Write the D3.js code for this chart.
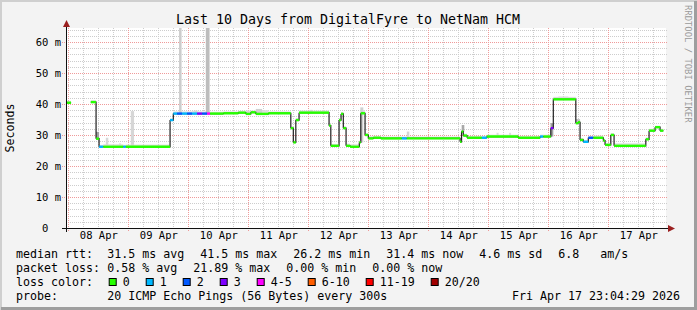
<!DOCTYPE html>
<html>
<head>
<meta charset="utf-8">
<script src="https://cdn.jsdelivr.net/npm/d3@7"></script>
<style>
  html, body { margin: 0; padding: 0; background: #f3f3f3; }
  svg text { font-family: "DejaVu Sans Mono", monospace; white-space: pre; }
</style>
</head>
<body>
<div id="chart"></div>
<script>
// Size of the picture
const width = 697;
const height = 310;

// Median steps: [hours since 08 Apr 00:00, median ms, lost pings, top of smoke ms]
const medianSteps = [
  [-0.9, 40.4, 0, 41.0], [1.1, null, 0, null],
  [9.0, 40.6, 0, 41.2], [11.1, 28.8, 0, 29.5], [12.3, 26.2, 1, 26.8], [14.0, 26.2, 0, 27.0],
  [22.0, 26.2, 1, 26.8], [23.0, 26.2, 0, 26.9], [40.7, 34.8, 1, 35.3], [42.0, 36.9, 1, 37.6],
  [43.5, 36.9, 2, 37.6], [45.5, 36.9, 1, 37.6], [47.5, 36.9, 2, 37.6], [49.5, 36.9, 1, 37.8],
  [51.5, 36.9, 3, 37.6], [53.5, 36.9, 2, 37.6], [55.5, 36.9, 4, 37.6], [56.7, 36.9, 0, 37.5],
  [62.0, 37.0, 0, 37.6], [68.0, 37.2, 0, 37.8], [71.0, 36.8, 0, 37.8], [73.0, 37.3, 0, 37.9],
  [75.0, 36.8, 0, 38.0], [80.0, 37.0, 0, 37.6], [89.0, 32.2, 0, 32.8], [90.0, 27.6, 0, 28.2],
  [91.0, 34.8, 0, 35.4], [92.3, 37.2, 0, 37.9], [104.3, 33.0, 0, 33.6], [105.0, 26.5, 0, 27.1],
  [108.3, 34.8, 0, 35.4], [109.1, 36.8, 0, 37.4], [110.0, 32.2, 0, 32.8], [111.1, 26.5, 0, 27.2],
  [112.7, 26.2, 0, 27.0], [116.4, 27.6, 0, 28.2], [117.0, 37.0, 0, 38.0], [118.7, 30.0, 0, 30.6],
  [120.0, 28.9, 0, 29.6], [122.0, 29.1, 0, 29.7], [125.0, 28.9, 0, 29.5], [133.4, 28.9, 1, 29.5],
  [135.4, 28.9, 0, 29.5], [156.7, 27.8, 0, 28.4], [157.3, 31.1, 0, 33.2], [158.0, 29.8, 0, 30.4],
  [159.5, 29.1, 0, 29.7], [165.4, 29.1, 1, 29.7], [167.4, 29.5, 0, 30.1], [179.9, 29.1, 0, 29.7],
  [188.7, 29.5, 1, 30.1], [190.0, 29.5, 0, 30.1], [193.0, 32.2, 3, 33.8], [194.0, 41.5, 0, 42.3],
  [203.0, 33.8, 0, 35.1], [203.9, 34.1, 0, 34.8], [204.7, 28.4, 0, 29.0], [206.0, 27.8, 1, 28.4],
  [208.0, 29.1, 2, 29.7], [210.0, 29.1, 0, 29.8], [214.0, 28.2, 0, 28.8], [214.7, 26.8, 0, 27.4],
  [217.0, 30.0, 0, 30.6], [218.3, 26.5, 0, 27.3], [231.0, 28.6, 0, 29.2], [232.3, 31.4, 0, 32.0],
  [234.7, 32.5, 0, 33.0], [236.7, 31.4, 0, 32.0], [238.0, null, 0, null]
];

// Smoke spikes: [from hour, to hour, top ms, shade]
const smokeSpikes = [
  [11.1, 12.3, 31.0, '#a0a0a0'], [15.0, 16.0, 29.1, '#d8d8d8'], [20.3, 21.1, 27.3, '#dcdcdc'],
  [25.0, 26.3, 37.7, '#d6d6d6'], [44.3, 45.3, 65, '#cccccc'], [50.5, 51.7, 37.9, '#d6d6d6'],
  [55.0, 56.5, 65, '#bdbdbd'], [71.5, 72.5, 37.9, '#d8d8d8'], [75.0, 77.5, 38.4, '#d0d0d0'],
  [96.5, 97.7, 38.1, '#d4d4d4'], [116.8, 118.0, 38.9, '#d0d0d0'], [135.4, 136.4, 31.1, '#d4d4d4'],
  [157.4, 158.4, 33.2, '#a8a8a8'], [171.3, 172.1, 30.7, '#dcdcdc'], [176.3, 177.1, 30.7, '#dcdcdc'],
  [192.9, 194.0, 33.8, '#a0a0a0'], [196.0, 200.0, 42.4, '#dcdcdc'], [203.0, 204.7, 35.1, '#c0c0c0'],
  [234.8, 236.5, 32.9, '#cccccc']
];

// Loss legend
const lossLabels = ['0', '1', '2', '3', '4-5', '6-10', '11-19', '20/20'];
const lossColors = ['#26ff00', '#00b8ff', '#0059ff', '#7e00ff', '#ff00ff', '#ff5e00', '#ff0000', '#a10000'];

// Texts
const title = 'Last 10 Days from DigitalFyre to NetNam HCM';
const yTicks = [0, 10, 20, 30, 40, 50, 60];
const rttStats = ['31.5 ms avg', '41.5 ms max', '26.2 ms min', '31.4 ms now', '4.6 ms sd', '6.8   am/s'];
const lossStats = ['0.58 % avg', '21.89 % max', '0.00 % min', '0.00 % now'];
const probeText = '20 ICMP Echo Pings (56 Bytes) every 300s';
const stampText = 'Fri Apr 17 23:04:29 2026';

const midnight = new Date(2026, 3, 8, 0, 0, 0);
const toDate = h => new Date(midnight.getTime() + h * 3600e3);

const svg = d3.select('#chart')
  .append('svg')
  .attr('width', width)
  .attr('height', height);

// Frame
svg.append('rect').attr('width', width).attr('height', height).attr('fill', '#f3f3f3');
svg.append('path').attr('d', `M0,${height} V0 H${width}`).attr('stroke', '#cfcfcf').attr('stroke-width', 4).attr('fill', 'none');
svg.append('path').attr('d', `M1,${height - 1.5} H${width - 1.5} V1`).attr('stroke', '#9e9e9e').attr('stroke-width', 3).attr('fill', 'none');

// Scales
const x = d3.scaleTime()
  .domain([new Date(2026, 3, 7, 23, 4, 29), new Date(2026, 3, 17, 23, 4, 29)])
  .range([66, 666]);
const y = d3.scaleLinear().domain([0, 64.5]).range([228, 28]);

// Plot canvas
svg.append('rect')
  .attr('x', 66).attr('y', 28)
  .attr('width', 600).attr('height', 200)
  .attr('fill', '#ffffff');

// Grid
const grid = svg.append('g').attr('shape-rendering', 'crispEdges');
const minorY = d3.range(2, 65, 2).filter(v => v % 10 !== 0);
grid.selectAll('.gy').data(minorY).enter().append('line')
  .attr('x1', 66).attr('x2', 668)
  .attr('y1', d => Math.round(y(d)) + 0.5).attr('y2', d => Math.round(y(d)) + 0.5)
  .attr('stroke', '#cdcdcd').attr('stroke-dasharray', '1,1');
const minorX = d3.timeHour.every(6).range(x.domain()[0], x.domain()[1]).filter(d => d.getHours() !== 0);
grid.selectAll('.gx').data(minorX).enter().append('line')
  .attr('x1', d => Math.round(x(d)) + 0.5).attr('x2', d => Math.round(x(d)) + 0.5)
  .attr('y1', 28).attr('y2', 228)
  .attr('stroke', '#cdcdcd').attr('stroke-dasharray', '1,1');
grid.selectAll('.my').data(yTicks.filter(v => v > 0)).enter().append('line')
  .attr('x1', 62).attr('x2', 668)
  .attr('y1', d => Math.round(y(d)) + 0.5).attr('y2', d => Math.round(y(d)) + 0.5)
  .attr('stroke', '#ef9a9a').attr('stroke-dasharray', '1,1');
const days = d3.timeDay.range(x.domain()[0], x.domain()[1]);
grid.selectAll('.mx').data(days).enter().append('line')
  .attr('x1', d => Math.round(x(d)) + 0.5).attr('x2', d => Math.round(x(d)) + 0.5)
  .attr('y1', 28).attr('y2', 231)
  .attr('stroke', '#ef9a9a').attr('stroke-dasharray', '1,1');

// Smoke band
const steps = medianSteps.slice(0, -1).map((d, i) => ({
  t0: toDate(d[0]), t1: toDate(medianSteps[i + 1][0]), v: d[1], loss: d[2], top: d[3],
  next: medianSteps[i + 1][1]
})).filter(d => d.v !== null);

svg.append('g').selectAll('rect').data(steps).enter().append('rect')
  .attr('x', d => x(d.t0)).attr('width', d => x(d.t1) - x(d.t0))
  .attr('y', d => y(d.top)).attr('height', d => y(d.v) - y(d.top) + 1)
  .attr('fill', '#dddddd');

const medianAt = h => {
  const i = d3.bisector(d => d[0]).right(medianSteps, h) - 1;
  return medianSteps[Math.max(0, i)][1] ?? 0;
};
svg.append('g').selectAll('rect').data(smokeSpikes).enter().append('rect')
  .attr('x', d => x(toDate(d[0]))).attr('width', d => x(toDate(d[1])) - x(toDate(d[0])))
  .attr('y', d => y(Math.min(d[2], 64.5)))
  .attr('height', d => y(medianAt(d[0])) - y(Math.min(d[2], 64.5)))
  .attr('fill', d => d[3]);

// Median line (black step)
const p = d3.path();
steps.forEach(d => {
  p.moveTo(x(d.t0), y(d.v));
  p.lineTo(x(d.t1), y(d.v));
  if (d.next !== null) p.lineTo(x(d.t1), y(d.next));
});
svg.append('path').attr('d', p.toString())
  .attr('fill', 'none').attr('stroke', '#202020').attr('stroke-width', 1.2);

// Loss-coloured median segments
svg.append('g').selectAll('line').data(steps).enter().append('line')
  .attr('x1', d => x(d.t0)).attr('x2', d => x(d.t1))
  .attr('y1', d => y(d.v)).attr('y2', d => y(d.v))
  .attr('stroke', d => lossColors[d.loss]).attr('stroke-width', 2.4);

// Axes
svg.append('line').attr('x1', 62).attr('x2', 670).attr('y1', 228.5).attr('y2', 228.5)
  .attr('stroke', '#101010');
svg.append('line').attr('x1', 66.5).attr('x2', 66.5).attr('y1', 232).attr('y2', 25)
  .attr('stroke', '#101010');
svg.append('path').attr('d', 'M668,225 L675,228.5 L668,232 Z').attr('fill', '#9b2020');
svg.append('path').attr('d', 'M63,27 L66.5,20 L70,27 Z').attr('fill', '#9b2020');

const yAxis = svg.append('g')
  .attr('transform', 'translate(61,0)')
  .call(d3.axisLeft(y).tickValues(yTicks).tickSize(0).tickPadding(0)
    .tickFormat(d => d === 0 ? '0  ' : d + ' m'));
yAxis.select('.domain').remove();
yAxis.selectAll('text').attr('font-size', 10.5).attr('fill', '#000')
  .attr('font-family', '"DejaVu Sans Mono", monospace');

const noons = days.map(d => d3.timeHour.offset(d, 12));
const xAxis = svg.append('g')
  .attr('transform', 'translate(0,232)')
  .call(d3.axisBottom(x).tickValues(noons).tickSize(0).tickPadding(0)
    .tickFormat(d3.timeFormat('%d %b')));
xAxis.select('.domain').remove();
xAxis.selectAll('text').attr('font-size', 10.5).attr('fill', '#000')
  .attr('font-family', '"DejaVu Sans Mono", monospace');

// Title and labels
svg.append('text').attr('x', 348).attr('y', 24).attr('text-anchor', 'middle')
  .attr('font-size', 13.3).text(title);
svg.append('text').attr('transform', 'translate(14,128) rotate(-90)')
  .attr('text-anchor', 'middle').attr('font-size', 11.6).text('Seconds');
svg.append('text').attr('transform', 'translate(685,5) rotate(90)')
  .attr('font-size', 8.9).attr('fill', '#9a9a9a').text('RRDTOOL / TOBI OETIKER');

// Legend
const charW = 7, gap = 16, col = 107.3, fs = 11.63;
const legend = svg.append('g').attr('font-size', fs);
function row(label, items, yy) {
  legend.append('text').attr('x', 16).attr('y', yy).text(label);
  let cx = col;
  items.forEach(s => {
    legend.append('text').attr('x', cx).attr('y', yy).text(s);
    cx += s.length * charW + gap;
  });
}
row('median rtt:', rttStats, 258);
row('packet loss:', lossStats, 272);
row('probe:', [probeText], 300);
legend.append('text').attr('x', 680).attr('y', 300).attr('text-anchor', 'end').text(stampText);

legend.append('text').attr('x', 16).attr('y', 286).text('loss color:');
let bx = 108.7;
lossLabels.forEach((l, i) => {
  legend.append('rect').attr('x', bx + 0.5).attr('y', 278.5).attr('width', 7).attr('height', 7)
    .attr('fill', lossColors[i]).attr('stroke', '#000').attr('stroke-width', 1);
  legend.append('text').attr('x', bx + 14).attr('y', 286).text(l);
  bx += 14 + l.length * charW + gap;
});
</script>
</body>
</html>
